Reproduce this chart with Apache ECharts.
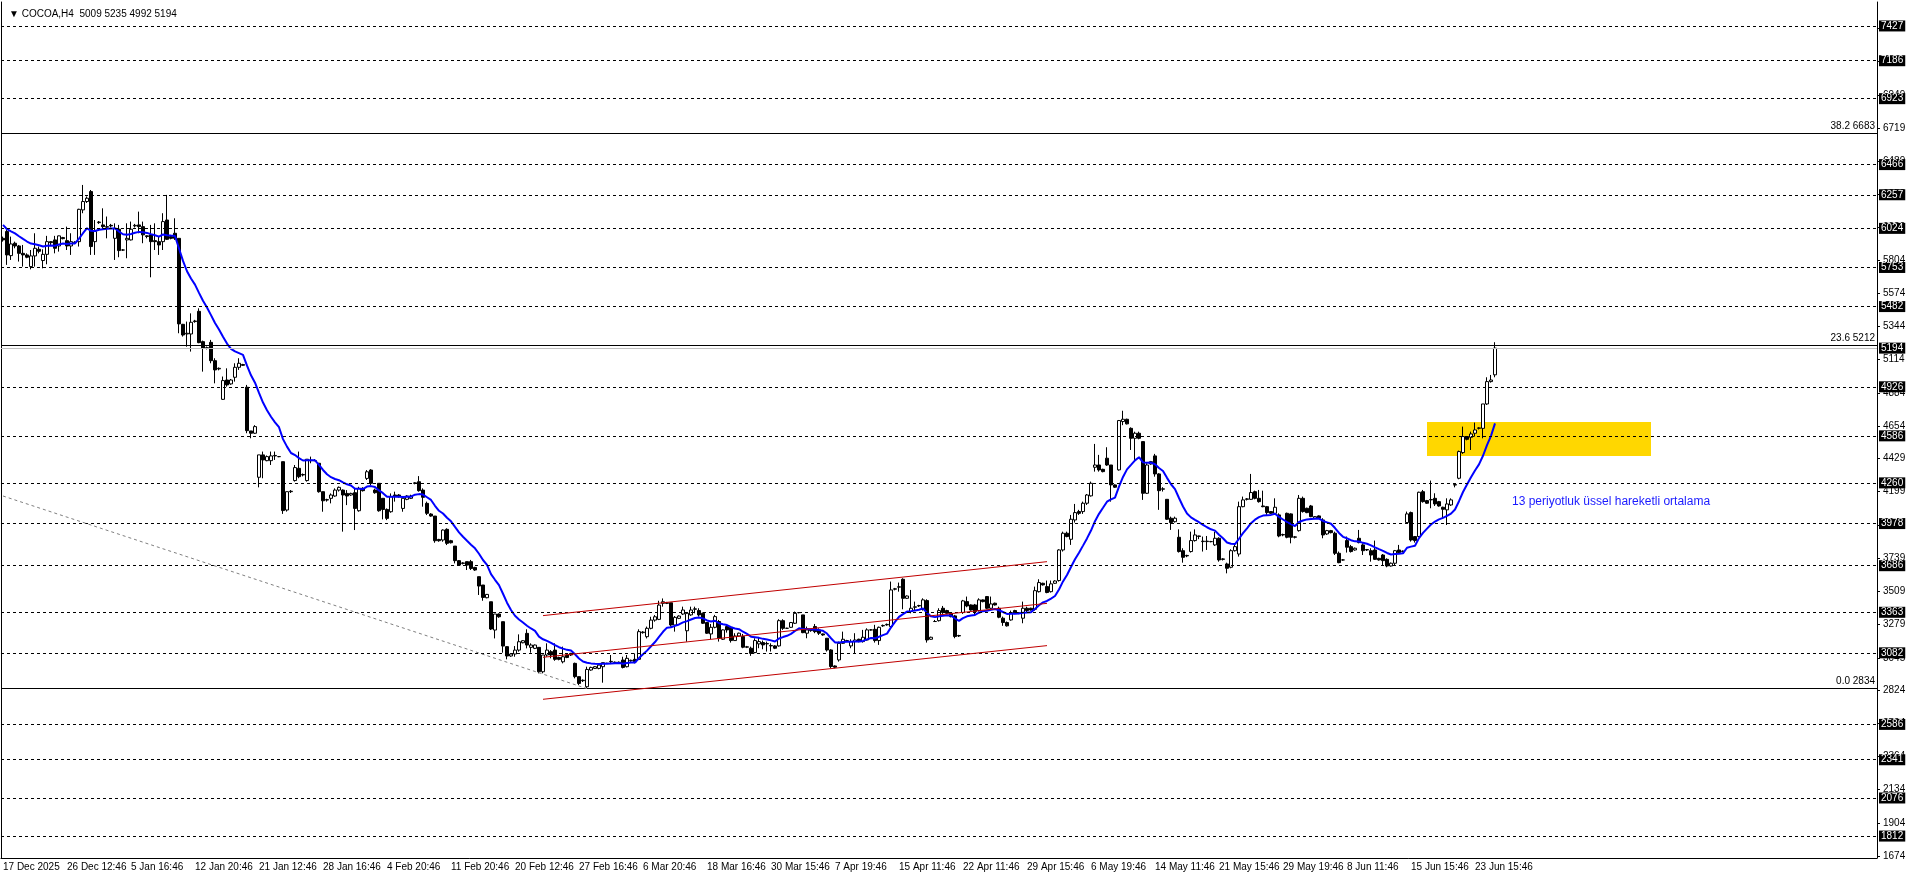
<!DOCTYPE html>
<html>
<head>
<meta charset="utf-8">
<title>COCOA,H4</title>
<script src="https://cdn.jsdelivr.net/npm/echarts@6/dist/echarts.min.js"></script>
<style>
  html, body { margin: 0; padding: 0; background: #fff; }
  #chart { width: 1916px; height: 879px; }
</style>
</head>
<body>
<div id="chart"></div>
<script>
// ── Values ────────────────────────────────────────────────────────────────
const TITLE = '▼ COCOA,H4  5009 5235 4992 5194'
const SLOT_COUNT = 469        // bars plus the empty shift on the right
const BARS_PER_LABEL = 16

const TIME_LABELS = [
  '17 Dec 2025', '26 Dec 12:46', '5 Jan 16:46', '12 Jan 20:46', '21 Jan 12:46', '28 Jan 16:46',
  '4 Feb 20:46', '11 Feb 20:46', '20 Feb 12:46', '27 Feb 16:46', '6 Mar 20:46', '18 Mar 16:46',
  '30 Mar 15:46', '7 Apr 19:46', '15 Apr 11:46', '22 Apr 11:46', '29 Apr 15:46', '6 May 19:46',
  '14 May 11:46', '21 May 15:46', '29 May 19:46', '8 Jun 11:46', '15 Jun 15:46', '23 Jun 15:46'
]

// H4 bars: [open, close, low, high]
const CANDLES = [
  [5955,5944,5932,5967],[6002,5840,5771,6013],[5835,5916,5805,5967],[5921,5902,5886,5932],[5902,5851,5794,5909],
  [5851,5840,5759,5909],[5840,5824,5817,5851],[5759,5833,5740,5874],[5833,5886,5759,5990],[5879,5865,5851,5898],
  [5801,5844,5747,5879],[5844,5932,5775,5972],[5932,5925,5909,5935],[5944,5886,5851,5972],[5902,5972,5863,5974],
  [5960,5953,5948,5965],[5939,5902,5874,6036],[5902,5932,5840,5990],[5925,5928,5915,5935],[5932,6156,5898,6160],
  [6152,6210,6129,6325],[6210,6233,6200,6245],[6279,5898,5840,6290],[5932,6002,5840,6082],[6064,6068,6055,6075],
  [6048,6036,6013,6163],[6032,6036,5955,6106],[6045,6041,6030,6055],[5955,6025,5805,6059],[6018,5870,5824,6048],
  [5874,5874,5868,5880],[5944,5955,5817,6059],[5944,6018,5940,6071],[6041,6045,6030,6055],[6048,6036,5990,6140],
  [6036,5979,5921,6071],[5972,5968,5955,5975],[5979,5932,5685,6048],[5939,5932,5874,6059],[5932,5909,5840,5967],
  [5932,6071,5874,6129],[6082,5948,5944,6256],[5967,5955,5948,5972],[5990,5955,5944,6094],[5955,5362,5297,5955],
  [5359,5285,5274,5362],[5292,5297,5204,5378],[5292,5373,5170,5435],[5378,5382,5370,5390],[5449,5232,5228,5470],
  [5239,5193,5031,5246],[5193,5197,5185,5205],[5234,5107,5089,5251],[5107,5043,4950,5124],[5050,5054,5040,5060],
  [4839,4969,4835,4997],[4973,4939,4927,5054],[4946,4973,4940,4980],[4992,5061,4962,5089],[5061,5089,5043,5124],
  [5080,5075,5070,5085],[4923,4622,4604,4939],[4620,4604,4569,4620],[4604,4650,4600,4660],[4299,4454,4229,4454],
  [4454,4419,4292,4477],[4414,4442,4410,4450],[4414,4447,4384,4477],[4447,4450,4419,4477],[4442,4442,4438,4446],
  [4407,4068,4045,4407],[4072,4199,4061,4199],[4199,4202,4190,4210],[4276,4366,4269,4384],[4361,4303,4292,4477],
  [4315,4318,4305,4325],[4276,4424,4269,4424],[4414,4417,4396,4442],[4414,4414,4414,4425],[4396,4199,4192,4396],
  [4199,4136,4060,4199],[4141,4144,4130,4150],[4153,4176,4118,4187],[4169,4210,4164,4222],[4210,4229,4200,4235],
  [4210,4176,3922,4215],[4187,4169,4106,4210],[4176,4187,4170,4192],[4192,4083,3933,4222],[4067,4222,4060,4233],
  [4222,4206,4200,4230],[4291,4337,4280,4349],[4349,4257,4245,4355],[4210,4192,4185,4220],[4257,4067,4060,4257],
  [4153,4076,4007,4153],[4076,4014,4002,4083],[4060,4164,4053,4187],[4176,4169,4130,4199],[4176,4164,4158,4182],
  [4083,4153,4060,4153],[4146,4169,4140,4175],[4153,4169,4148,4178],[4257,4260,4250,4265],[4268,4206,4199,4307],
  [4210,4160,4095,4222],[4118,4049,4037,4130],[4044,4030,4025,4050],[4030,3859,3845,4030],[3868,3859,3852,3872],
  [3864,3933,3852,3938],[3938,3841,3829,3945],[3859,3845,3840,3865],[3822,3721,3702,3822],[3721,3690,3685,3725],
  [3702,3705,3695,3710],[3714,3690,3656,3714],[3714,3667,3656,3726],[3674,3656,3650,3678],[3610,3545,3483,3610],
  [3552,3466,3443,3552],[3464,3487,3460,3490],[3436,3247,3240,3436],[3240,3351,3182,3351],[3351,3332,3325,3355],
  [3298,3129,3083,3298],[3125,3060,3037,3129],[3060,3074,3055,3080],[3074,3101,3055,3129],[3101,3159,3090,3210],
  [3152,3166,3148,3170],[3217,3136,3113,3245],[3120,3136,3083,3148],[3113,3136,3108,3140],[3120,2951,2940,3120],
  [2951,3067,2940,3067],[3067,3101,3055,3148],[3090,3067,3044,3101],[3101,3037,3027,3148],[3050,3037,3030,3055],
  [3020,3055,3009,3125],[3067,3050,3045,3072],[3078,3067,3060,3082],[3009,2917,2905,3014],[2917,2870,2859,2917],
  [2889,2892,2880,2898],[2847,2967,2836,2986],[2963,2981,2958,2986],[2974,2986,2970,2990],[2974,2997,2968,3000],
  [2986,3014,2875,3014],[3009,3009,3005,3013],[3020,3023,3004,3067],[3014,3017,3008,3022],[3014,3017,3008,3022],
  [3032,2981,2974,3055],[2986,3044,2981,3067],[3027,3030,3020,3035],[3037,3020,3009,3078],[3037,3229,3032,3245],
  [3222,3226,3215,3232],[3194,3252,3182,3264],[3252,3309,3245,3332],[3309,3332,3298,3344],[3314,3413,3309,3443],
  [3425,3436,3402,3459],[3425,3429,3420,3435],[3429,3275,3263,3429],[3275,3328,3229,3337],[3321,3337,3316,3342],
  [3351,3379,3344,3402],[3235,3356,3159,3365],[3345,3379,3338,3402],[3384,3387,3356,3402],[3375,3345,3333,3391],
  [3356,3287,3282,3361],[3292,3218,3213,3292],[3213,3259,3176,3282],[3259,3333,3252,3345],[3299,3183,3160,3310],
  [3176,3241,3171,3245],[3264,3241,3222,3276],[3259,3167,3153,3264],[3167,3199,3167,3218],[3199,3218,3195,3222],
  [3195,3121,3114,3213],[3121,3124,3115,3130],[3114,3079,3061,3125],[3084,3167,3079,3183],[3144,3160,3114,3190],
  [3153,3137,3107,3167],[3144,3147,3091,3160],[3130,3133,3091,3148],[3130,3114,3108,3135],[3130,3305,3125,3315],
  [3305,3252,3241,3315],[3252,3252,3248,3256],[3259,3292,3255,3296],[3287,3356,3282,3368],[3361,3361,3356,3365],
  [3345,3222,3218,3345],[3218,3241,3183,3264],[3236,3239,3228,3245],[3264,3229,3218,3282],[3241,3218,3206,3252],
  [3213,3206,3200,3216],[3183,3102,3091,3183],[3102,2987,2975,3107],[2991,2982,2975,2995],[3033,3148,3021,3160],
  [3148,3176,3144,3229],[3167,3167,3162,3172],[3130,3160,3114,3176],[3160,3171,3079,3218],[3176,3160,3155,3180],
  [3160,3190,3153,3241],[3171,3241,3167,3252],[3241,3241,3236,3246],[3245,3167,3153,3276],[3167,3259,3137,3264],
  [3269,3272,3262,3278],[3276,3279,3270,3285],[3264,3518,3259,3576],[3523,3526,3515,3532],[3537,3540,3506,3569],
  [3592,3460,3384,3599],[3460,3476,3455,3480],[3368,3391,3356,3518],[3398,3401,3375,3437],[3407,3410,3400,3415],
  [3384,3449,3375,3460],[3444,3171,3153,3453],[3176,3190,3172,3194],[3299,3299,3299,3310],[3305,3375,3299,3391],
  [3391,3361,3352,3407],[3375,3356,3350,3380],[3356,3333,3328,3360],[3338,3195,3183,3345],[3199,3202,3192,3207],
  [3361,3442,3352,3449],[3437,3407,3398,3472],[3414,3379,3375,3418],[3414,3368,3345,3421],[3375,3449,3368,3460],
  [3449,3437,3432,3452],[3472,3391,3384,3476],[3391,3421,3379,3472],[3426,3414,3410,3430],[3391,3329,3322,3402],
  [3322,3292,3269,3333],[3292,3269,3264,3299],[3310,3361,3305,3375],[3375,3356,3350,3380],[3356,3359,3350,3365],
  [3322,3391,3287,3437],[3391,3375,3361,3402],[3391,3379,3375,3395],[3384,3513,3375,3541],[3506,3569,3500,3592],
  [3564,3553,3548,3568],[3541,3500,3495,3583],[3506,3560,3500,3583],[3564,3580,3560,3585],[3583,3795,3576,3800],
  [3795,3911,3784,3922],[3911,3888,3883,3922],[3869,4008,3830,4038],[4003,4054,3985,4114],[4061,4049,4038,4073],
  [4061,4119,4045,4130],[4119,4176,4107,4183],[4170,4257,4165,4269],[4368,4384,4338,4530],[4384,4350,4338,4454],
  [4354,4338,4333,4358],[4431,4384,4378,4507],[4384,4246,4130,4384],[4246,4230,4225,4250],[4350,4692,4345,4696],
  [4685,4701,4660,4760],[4701,4669,4665,4705],[4638,4569,4488,4645],[4569,4604,4419,4615],[4604,4569,4562,4615],
  [4546,4188,4142,4546],[4188,4384,4183,4396],[4391,4407,4386,4412],[4447,4322,4303,4461],[4322,4206,4073,4327],
  [4216,4219,4200,4230],[4146,4008,4003,4146],[4015,3985,3934,4026],[3991,4015,3985,4026],[3883,3784,3777,3938],
  [3790,3744,3707,3807],[3754,3757,3745,3762],[3784,3860,3777,3922],[3860,3899,3853,3938],[3892,3889,3870,3894],
  [3853,3856,3784,3888],[3853,3856,3795,3892],[3853,3853,3848,3858],[3830,3876,3823,3922],[3876,3726,3714,3883],
  [3730,3733,3722,3738],[3698,3668,3633,3707],[3675,3790,3668,3800],[3790,3818,3784,3830],[3767,4095,3749,4130],
  [4095,4142,4091,4165],[4146,4149,4138,4155],[4146,4193,4142,4322],[4199,4153,4146,4206],[4153,4130,4123,4211],
  [4100,4095,4091,4206],[4095,4054,4038,4100],[4061,4049,4045,4065],[4049,4091,4038,4153],[4038,3892,3883,4049],
  [3899,3902,3890,3908],[4049,3883,3876,4054],[4045,3883,3841,4049],[3883,3886,3875,3892],[3929,4153,3922,4176],
  [4153,4061,4054,4165],[4084,4054,4050,4088],[4100,4026,4022,4107],[4015,4026,4010,4030],[4031,4015,4010,4035],
  [4003,3899,3876,4015],[3906,3929,3899,3934],[3929,3915,3910,3934],[3911,3772,3760,3922],[3772,3707,3703,3784],
  [3726,3726,3721,3731],[3860,3814,3777,3888],[3818,3784,3777,3830],[3795,3807,3790,3812],[3876,3846,3841,3934],
  [3830,3790,3760,3841],[3795,3798,3788,3802],[3790,3760,3714,3807],[3795,3730,3726,3860],[3737,3726,3721,3741],
  [3760,3721,3684,3767],[3730,3684,3675,3737],[3684,3703,3680,3708],[3703,3790,3684,3795],[3795,3777,3772,3830],
  [3784,3787,3778,3792],[3985,4045,3980,4061],[4054,3864,3853,4061],[3888,3860,3846,3892],[3888,4195,3883,4199],
  [4199,4130,4123,4211],[4137,4119,4114,4142],[4142,4145,4084,4276],[4153,4114,4100,4188],[4130,4100,4095,4135],
  [4091,4077,4015,4095],[4073,4114,3968,4153],[4107,4142,4100,4153],[4245,4248,4229,4253],[4292,4477,4285,4484],
  [4470,4581,4461,4650],[4581,4562,4555,4585],[4576,4599,4488,4615],[4604,4627,4581,4678],[4638,4641,4630,4646],
  [4638,4807,4569,4807],[4807,4962,4800,4992],[4962,4973,4955,5008],[5009,5194,4992,5235]
]

const EMA_PERIOD = 13
const EMA_START = 6048        // value of the average at the first visible bar

const DASHED_LEVELS = [7427, 7186, 6923, 6466, 6257, 6024, 5753, 5482, 4926, 4586, 4260, 3978, 3686, 3363, 3082, 2586, 2341, 2076, 1812]
const BID_PRICE = 5194
const FIB_LEVELS = [6683, 5212, 2834]
const FIB_NAMES = ['38.2', '23.6', '0.0']
const PRICE_TICKS = [7409, 7179, 6949, 6719, 6489, 6259, 6029, 5804, 5574, 5344, 5114, 4884, 4654, 4429,
  4199, 3969, 3739, 3509, 3279, 3045, 2824, 2594, 2364, 2134, 1904, 1674]

// channel: [startBar, endBar] and [startPrice, endPrice] per line
const CHANNEL_BARS = [135, 261]
const CHANNEL_PRICES = [[3340, 3714], [3051, 3425], [2760, 3132]]
const TREND_BARS = [0, 146]
const TREND_PRICES = [4169, 2834]
const ZONE_BARS = [356, 412]
const ZONE_PRICES = [4446, 4682]
const EMA_NOTE = '13 periyotluk üssel hareketli ortalama'

const Y_MIN = 1660
const Y_MAX = 7593

const FONT = "'Liberation Sans', Arial, sans-serif"

// ── Derived ───────────────────────────────────────────────────────────────
const categories = Array.from({ length: SLOT_COUNT }, (_, i) => String(i))
const BOXED_LEVELS = [...DASHED_LEVELS, BID_PRICE]

// 13-period exponential moving average of the closes
const ema = []
CANDLES.forEach((c, i) => {
  const prev = i === 0 ? EMA_START : ema[i - 1]
  ema.push(i === 0 ? EMA_START : +(prev + (c[1] - prev) * 2 / (EMA_PERIOD + 1)).toFixed(1))
})

const isLabelBar = (idx) => idx % BARS_PER_LABEL === 0 && idx / BARS_PER_LABEL < TIME_LABELS.length

const levelLines = [
  ...DASHED_LEVELS.map((v) => ({
    yAxis: v,
    lineStyle: { color: '#000', width: 1, type: [3, 3] },
  })),
  {
    yAxis: BID_PRICE,
    lineStyle: { color: '#c0c0c0', width: 1, type: 'solid' },
  },
  ...FIB_LEVELS.map((v, i) => ({
    yAxis: v,
    lineStyle: { color: '#000', width: 1, type: 'solid' },
    label: {
      show: true,
      position: 'insideEndTop',
      distance: 2,
      formatter: `${FIB_NAMES[i]} ${v}`,
      color: '#000',
      fontSize: 10,
      fontFamily: FONT,
    },
  })),
]

const drawnLines = [
  ...CHANNEL_PRICES.map((pr) => [
    { coord: [String(CHANNEL_BARS[0]), pr[0]] },
    { coord: [String(CHANNEL_BARS[1]), pr[1]] },
  ]),
  [
    { coord: [String(TREND_BARS[0]), TREND_PRICES[0]], lineStyle: { color: '#808080', type: [3, 3], width: 1 } },
    { coord: [String(TREND_BARS[1]), TREND_PRICES[1]] },
  ],
]

const priceAxisBase = {
  type: 'value',
  min: Y_MIN,
  max: Y_MAX,
  splitLine: { show: false },
}

// ── Chart ─────────────────────────────────────────────────────────────────
const chart = echarts.init(document.getElementById('chart'))

chart.setOption({
  animation: false,
  backgroundColor: '#fff',
  textStyle: { fontFamily: FONT },
  title: {
    text: TITLE,
    left: 4,
    top: 4,
    textStyle: { fontSize: 10, fontWeight: 'normal', color: '#000', fontFamily: FONT },
  },
  grid: { left: 1, right: 39, top: 2, bottom: 21, containLabel: false },
  xAxis: {
    type: 'category',
    data: categories,
    boundaryGap: true,
    axisLine: { lineStyle: { color: '#000', width: 1 } },
    axisTick: {
      alignWithLabel: true,
      interval: (idx) => isLabelBar(idx),
      length: 4,
      lineStyle: { color: '#000' },
    },
    axisLabel: {
      interval: (idx) => isLabelBar(idx),
      formatter: (val, idx) => TIME_LABELS[idx / BARS_PER_LABEL] || '',
      align: 'left',
      margin: 4,
      color: '#000',
      fontSize: 10,
      fontFamily: FONT,
    },
    splitLine: { show: false },
  },
  yAxis: [
    {
      ...priceAxisBase,
      position: 'right',
      z: 1,
      axisLine: { show: true, lineStyle: { color: '#000', width: 1 } },
      axisTick: { show: true, length: 3, customValues: PRICE_TICKS, lineStyle: { color: '#000' } },
      axisLabel: {
        customValues: PRICE_TICKS,
        formatter: (v) => String(v),
        margin: 6,
        color: '#000',
        fontSize: 10,
        fontFamily: FONT,
      },
    },
    {
      ...priceAxisBase,
      position: 'left',
      axisLine: { show: true, lineStyle: { color: '#000', width: 1 } },
      axisTick: { show: false },
      axisLabel: { show: false },
    },
    {
      // boxed level prices drawn over the plain scale labels
      ...priceAxisBase,
      position: 'right',
      z: 5,
      axisLine: { show: false },
      axisTick: { show: false },
      axisLabel: {
        customValues: BOXED_LEVELS,
        formatter: (v) => String(v),
        margin: 2,
        color: '#fff',
        backgroundColor: '#000',
        padding: [1, 2, 0, 2],
        fontSize: 10,
        fontFamily: FONT,
      },
    },
  ],
  graphic: [
    {
      type: 'text',
      left: 1512,
      top: 496,
      style: { text: EMA_NOTE, fill: '#1a1aff', fontSize: 12, fontFamily: FONT },
      z: 100,
    },
  ],
  series: [
    {
      name: 'zone',
      type: 'line',
      data: [],
      silent: true,
      z: 1,
      markArea: {
        silent: true,
        itemStyle: { color: '#ffd700' },
        data: [[
          { coord: [String(ZONE_BARS[0]), ZONE_PRICES[1]] },
          { coord: [String(ZONE_BARS[1]), ZONE_PRICES[0]] },
        ]],
      },
    },
    {
      name: 'COCOA',
      type: 'candlestick',
      data: CANDLES,
      barWidth: 3,
      z: 2,
      itemStyle: {
        color: '#fff',
        color0: '#000',
        borderColor: '#000',
        borderColor0: '#000',
        borderWidth: 1,
      },
      markLine: {
        silent: true,
        symbol: ['none', 'none'],
        label: { show: false },
        data: levelLines,
      },
    },
    {
      name: 'EMA 13',
      type: 'line',
      data: ema,
      symbol: 'none',
      z: 3,
      lineStyle: { color: '#0000ff', width: 2 },
    },
    {
      name: 'drawings',
      type: 'line',
      data: [],
      z: 4,
      markLine: {
        silent: true,
        symbol: ['none', 'none'],
        label: { show: false },
        lineStyle: { color: '#c00000', width: 1, type: 'solid' },
        data: drawnLines,
      },
    },
  ],
})
</script>
</body>
</html>
